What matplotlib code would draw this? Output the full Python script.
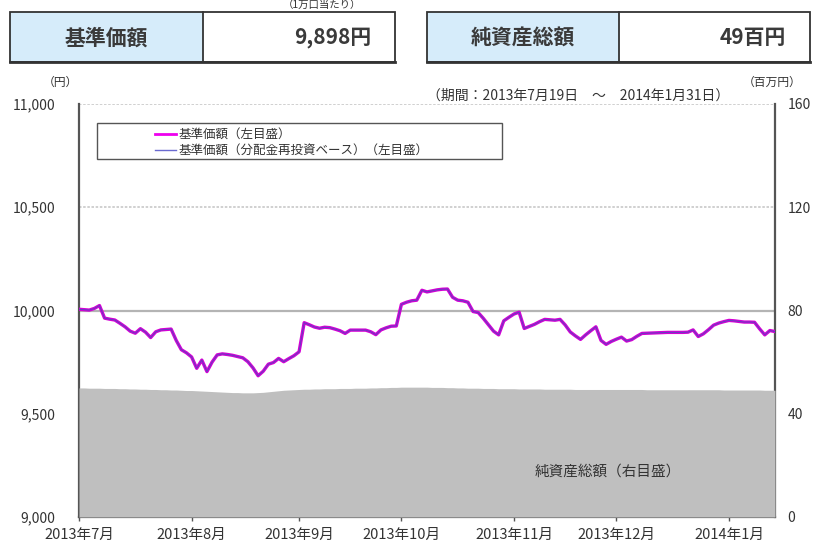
import matplotlib
matplotlib.use("Agg")
import matplotlib.pyplot as plt
from matplotlib.patches import Rectangle
from matplotlib.lines import Line2D
from matplotlib.ticker import FuncFormatter

plt.rcParams['font.family'] = ['Noto Sans CJK JP', 'DejaVu Sans']

# -----------------------------
# Data
# -----------------------------
nav = [
    10006, 10004, 10002, 10010, 10024, 9963, 9958, 9954, 9938, 9921,
    9900, 9890, 9912, 9895, 9869, 9897, 9906, 9908, 9910, 9855,
    9810, 9795, 9775, 9720, 9760, 9704, 9750, 9785, 9790, 9787,
    9783, 9777, 9771, 9752, 9722, 9684, 9706, 9740, 9748, 9768,
    9752, 9767, 9781, 9800, 9941, 9931, 9920, 9914, 9919, 9917,
    9910, 9902, 9889, 9905, 9905, 9905, 9905, 9897, 9883, 9906,
    9916, 9924, 9925, 10030, 10040, 10047, 10050, 10098, 10090, 10095,
    10100, 10103, 10104, 10064, 10050, 10047, 10040, 9995, 9990, 9962,
    9931, 9900, 9882, 9950, 9967, 9983, 9992, 9913, 9923, 9933,
    9946, 9957, 9955, 9953, 9957, 9930, 9896, 9877, 9860, 9882,
    9902, 9921, 9855, 9836, 9850, 9861, 9871, 9852, 9859, 9875,
    9889, 9890, 9891, 9892, 9893, 9894, 9894, 9894, 9894, 9895,
    9906, 9874, 9887, 9907, 9929, 9939, 9946, 9952, 9950, 9947,
    9944, 9944, 9943, 9911, 9882, 9903, 9898,
]

net_assets = [
    50.0, 50.0, 49.9, 49.9, 49.9, 49.8, 49.8, 49.8, 49.7, 49.7,
    49.6, 49.6, 49.5, 49.5, 49.4, 49.4, 49.3, 49.3, 49.2, 49.2,
    49.1, 49.0, 49.0, 48.9, 48.8, 48.7, 48.6, 48.5, 48.4, 48.3,
    48.2, 48.2, 48.1, 48.1, 48.1, 48.2, 48.3, 48.5, 48.7, 48.9,
    49.1, 49.2, 49.3, 49.4, 49.5, 49.5, 49.6, 49.6, 49.7, 49.7,
    49.7, 49.8, 49.8, 49.8, 49.9, 49.9, 49.9, 50.0, 50.0, 50.1,
    50.1, 50.2, 50.2, 50.3, 50.3, 50.3, 50.3, 50.3, 50.3, 50.2,
    50.2, 50.2, 50.1, 50.1, 50.0, 50.0, 49.9, 49.9, 49.9, 49.8,
    49.8, 49.8, 49.7, 49.7, 49.7, 49.7, 49.6, 49.6, 49.6, 49.6,
    49.6, 49.5, 49.5, 49.5, 49.5, 49.5, 49.5, 49.4, 49.4, 49.4,
    49.4, 49.4, 49.4, 49.4, 49.4, 49.4, 49.4, 49.4, 49.4, 49.4,
    49.4, 49.3, 49.3, 49.3, 49.3, 49.3, 49.3, 49.3, 49.3, 49.3,
    49.3, 49.3, 49.3, 49.3, 49.3, 49.3, 49.2, 49.2, 49.2, 49.2,
    49.2, 49.2, 49.2, 49.2, 49.1, 49.1, 49.1,
]

x_tick_idx = [0, 22, 43, 63, 85, 105, 127]
x_tick_labels = ["2013年7月", "2013年8月", "2013年9月", "2013年10月",
                 "2013年11月", "2013年12月", "2014年1月"]
left_ticks = [9000, 9500, 10000, 10500, 11000]
right_ticks = [0, 40, 80, 120, 160]

legend_labels = ["基準価額（左目盛）", "基準価額（分配金再投資ベース）（左目盛）"]
header_items = [("基準価額", "9,898円"), ("純資産総額", "49百円")]

# -----------------------------
# Figure
# -----------------------------
W, H = 814, 544
fig = plt.figure(figsize=(W / 100, H / 100), dpi=100)

ax2 = fig.add_axes([79 / W, 27 / H, 696 / W, 413 / H])
ax1 = ax2.twinx()
ax1.set_zorder(ax2.get_zorder() + 1)
ax1.patch.set_visible(False)

x = list(range(len(nav)))

# net assets (right scale) - gray area
ax2.set_ylim(0, 160)
ax2.set_xlim(0, len(nav) - 1)
ax2.fill_between(x, 0, net_assets, color="#bfbfbf", lw=0, zorder=3)
for v in right_ticks[2:]:
    if v == 80:
        ax2.axhline(v, color="#b4b4b4", lw=1.6, zorder=1)
    else:
        ax2.axhline(v, color="#c8c8c8", lw=1.2, ls=(0, (1.5, 1)), zorder=1)

# NAV lines (left scale) - drawn on a twin so they sit above the area
ax1.yaxis.tick_left()
ax2.yaxis.tick_right()
ax1.set_ylim(9000, 11000)
ax1.plot(x, nav, color="#d400d4", lw=2.4, solid_joinstyle="round")
ax1.plot(x, nav, color="#6040c0", lw=0.7)

ax1.set_yticks(left_ticks)
ax1.yaxis.set_major_formatter(FuncFormatter(lambda v, p: f"{int(v):,}"))
ax2.set_yticks(right_ticks)
ax2.set_xticks(x_tick_idx)
ax2.set_xticklabels(x_tick_labels)

for a in (ax1, ax2):
    for s in a.spines.values():
        s.set_visible(False)
for k in ("left", "right", "bottom"):
    ax2.spines[k].set_visible(True)
    ax2.spines[k].set_color("#555555")
    ax2.spines[k].set_linewidth(1.6)

ax1.tick_params(axis="y", length=0, pad=17, labelsize=10, labelcolor="#333333")
ax2.tick_params(axis="y", length=0, pad=9, labelsize=10, labelcolor="#333333")
ax2.tick_params(axis="x", length=3, width=1, color="#555555", pad=5,
                labelsize=10.5, labelcolor="#333333")
ax1.tick_params(axis="x", length=0, labelbottom=False)

# legend: frame drawn separately so it can be wider than its text
ax1.add_patch(Rectangle((0.026, 0.868), 0.582, 0.085, transform=ax1.transAxes,
                        facecolor="white", edgecolor="#555555", lw=1.0, zorder=4))
handles = [Line2D([], [], color="#ee00ee", lw=2.0),
           Line2D([], [], color="#6a6ad0", lw=1.0)]
leg = ax1.legend(handles, legend_labels, loc="upper left",
                 bbox_to_anchor=(0.096, 0.963), frameon=False, fontsize=9,
                 handlelength=1.7, handletextpad=0.2, labelspacing=0.25,
                 borderpad=0.2)
leg.set_zorder(5)
for t in leg.get_texts():
    t.set_color("#333333")

ax2.text(0.76, 0.11, "純資産総額（右目盛）", transform=ax2.transAxes,
         ha="center", va="center", fontsize=10.5, color="#333333", zorder=5)

# -----------------------------
# Header boxes and captions (figure pixel coordinates)
# -----------------------------
ov = fig.add_axes([0, 0, 1, 1], zorder=-5)
ov.set_xlim(0, W)
ov.set_ylim(H, 0)
ov.axis("off")

boxes = [(10, 203, 395), (427, 619, 810)]
for (left, mid, right), (label, value) in zip(boxes, header_items):
    ov.add_patch(Rectangle((left, 12), mid - left, 50, facecolor="#d6ecfa",
                           edgecolor="none"))
    ov.add_patch(Rectangle((left, 12), right - left, 50, facecolor="none",
                           edgecolor="#333333", lw=1.3))
    ov.plot([mid, mid], [12, 62], color="#333333", lw=1.3)
    ov.plot([left, right], [62, 62], color="#333333", lw=2.0)
    ov.text((left + mid) / 2, 38, label, ha="center", va="center",
            fontsize=15, fontweight="bold", color="#3a3a3a")
    ov.text(right - 24, 38, value, ha="right", va="center",
            fontsize=15, fontweight="bold", color="#3a3a3a")

ov.text(322, 5, "（1万口当たり）", ha="center", va="center", fontsize=7.5,
        color="#333333")
ov.text(60, 82, "（円）", ha="center", va="center", fontsize=8.5,
        color="#333333")
ov.text(772, 82, "（百万円）", ha="center", va="center", fontsize=8.5,
        color="#333333")
ov.text(578, 96, "（期間：2013年7月19日　～　2014年1月31日）", ha="center",
        va="center", fontsize=10, color="#333333")

fig.savefig("out.png", dpi=100)
